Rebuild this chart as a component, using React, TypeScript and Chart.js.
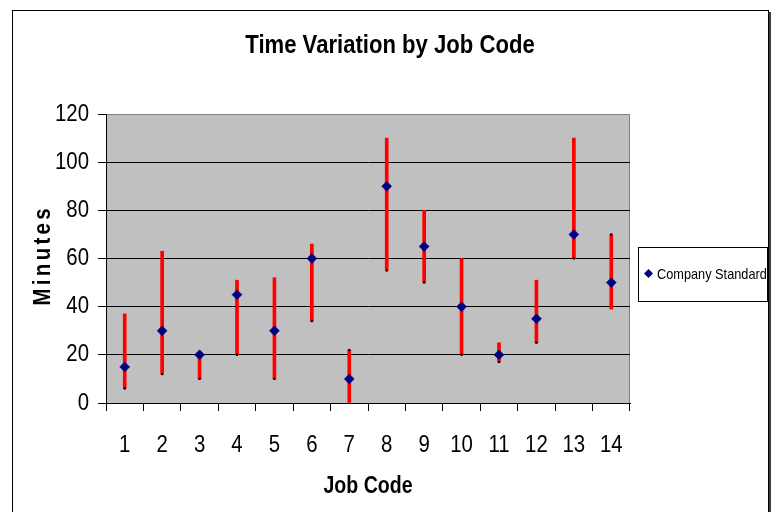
import React, { useEffect, useRef } from "react";
import { Chart, registerables } from "chart.js";

Chart.register(...registerables);

const jobCodes = ["1", "2", "3", "4", "5", "6", "7", "8", "9", "10", "11", "12", "13", "14"];
const companyStandard = [15, 30, 20, 45, 30, 60, 10, 90, 65, 40, 20, 35, 70, 50];
const lowValues = [6, 12, 10, 20, 10, 34, 0, 55, 50, 20, 17, 25, 60, 39];
const highValues = [37, 63, 20, 51, 52, 66, 22, 110, 80, 60, 25, 51, 110, 70];
const closeValues = [6, 12, 10, 20, 10, 34, 22, 55, 50, 20, 17, 25, 60, 70];
const yTicks = [0, 20, 40, 60, 80, 100, 120];

const FONT = "'Liberation Sans', Arial, sans-serif";
const NARROW = 0.85; // emulate a narrow face by horizontal squeeze

function narrowContext(ctx: any) {
  if (ctx.__narrowed) return;
  ctx.__narrowed = true;
  const origFill = ctx.fillText.bind(ctx);
  const origMeasure = ctx.measureText.bind(ctx);
  ctx.fillText = (text: string, x: number, y: number, maxWidth?: number) => {
    ctx.save();
    ctx.translate(x, y);
    ctx.scale(NARROW, 1);
    if (maxWidth !== undefined) origFill(text, 0, 0, maxWidth / NARROW);
    else origFill(text, 0, 0);
    ctx.restore();
  };
  ctx.measureText = (text: string) => {
    const m = origMeasure(text);
    return {
      width: m.width * NARROW,
      actualBoundingBoxAscent: m.actualBoundingBoxAscent,
      actualBoundingBoxDescent: m.actualBoundingBoxDescent,
      actualBoundingBoxLeft: m.actualBoundingBoxLeft * NARROW,
      actualBoundingBoxRight: m.actualBoundingBoxRight * NARROW,
    };
  };
}

const framePlugin = {
  id: "frame",
  beforeDraw(chart: any) {
    const { ctx, chartArea } = chart;
    ctx.save();
    ctx.fillStyle = "#ffffff";
    ctx.fillRect(0, 0, chart.width, chart.height);
    ctx.fillStyle = "#C0C0C0";
    ctx.fillRect(chartArea.left, chartArea.top, chartArea.right - chartArea.left, chartArea.bottom - chartArea.top);
    ctx.strokeStyle = "#808080";
    ctx.lineWidth = 1;
    ctx.strokeRect(chartArea.left + 0.5, chartArea.top + 0.5, chartArea.right - chartArea.left - 1, chartArea.bottom - chartArea.top);
    ctx.restore();
  },
  afterDraw(chart: any) {
    const { ctx } = chart;
    ctx.save();
    // outer frame
    ctx.strokeStyle = "#000000";
    ctx.lineWidth = 1;
    ctx.strokeRect(12.5, 10.5, 756, 520);
    ctx.fillStyle = "#404040";
    ctx.fillRect(769, 12, 2, 510);
    // y axis title with letter spacing
    ctx.translate(41, 257);
    ctx.rotate(-Math.PI / 2);
    ctx.font = `bold 24px ${FONT}`;
    (ctx as any).letterSpacing = "3.9px";
    ctx.fillStyle = "#000000";
    ctx.textAlign = "center";
    ctx.textBaseline = "alphabetic";
    ctx.fillText("Minutes", 1.7, 8.5);
    ctx.restore();

    // legend
    ctx.save();
    ctx.strokeStyle = "#000000";
    ctx.lineWidth = 1;
    ctx.strokeRect(638.5, 247.5, 129, 54);
    const cx = 648.5, cy = 273.5, r = 4.5;
    ctx.fillStyle = "#000080";
    ctx.beginPath();
    ctx.moveTo(cx, cy - r);
    ctx.lineTo(cx + r, cy);
    ctx.lineTo(cx, cy + r);
    ctx.lineTo(cx - r, cy);
    ctx.closePath();
    ctx.fill();
    ctx.fillStyle = "#000000";
    ctx.font = `15px ${FONT}`;
    ctx.textAlign = "left";
    ctx.textBaseline = "alphabetic";
    ctx.fillText(chart.data.datasets[0].label, 657, 278.5);
    ctx.restore();
  },
};

export default function App() {
  const ref = useRef<HTMLCanvasElement | null>(null);
  useEffect(() => {
    if (!ref.current) return;
    const ctx2d = ref.current.getContext("2d");
    narrowContext(ctx2d);
    const chart = new Chart(ref.current, {
      type: "bar",
      data: {
        labels: jobCodes,
        datasets: [
          {
            type: "line",
            label: "Company Standard",
            data: companyStandard,
            showLine: false,
            pointStyle: "rectRot",
            pointRadius: 5,
            pointBackgroundColor: "#000080",
            pointBorderColor: "#000080",
            pointBorderWidth: 0.5,
            order: 0,
          } as any,
          {
            type: "line",
            label: "Close",
            data: closeValues,
            showLine: false,
            pointStyle: "rect",
            pointRadius: 1.5,
            pointBackgroundColor: "#000000",
            pointBorderColor: "#000000",
            pointBorderWidth: 0,
            order: 1,
          } as any,
          {
            type: "bar",
            label: "Range",
            data: lowValues.map((l, i) => [l, highValues[i]]),
            backgroundColor: "#FF0000",
            borderWidth: 0,
            barThickness: 3,
            order: 2,
          } as any,
        ],
      },
      options: {
        animation: false,
        responsive: false,
        layout: { padding: { left: 8, right: 0, top: 0, bottom: 0 } },
        plugins: {
          legend: { display: false },
          tooltip: { enabled: false },
          title: {
            display: true,
            text: "Time Variation by Job Code",
            color: "#000000",
            font: { family: FONT, size: 26, weight: "bold" },
            padding: { top: 30.4, bottom: 52.4 },
          },
        },
        scales: {
          x: {
            type: "category",
            offset: true,
            grid: { display: true, drawOnChartArea: false, drawTicks: true, tickLength: 8, color: "#000000", offset: true },
            border: { display: true, color: "#000000", width: 1 },
            ticks: { color: "#000000", font: { family: FONT, size: 24 }, padding: 20, maxRotation: 0, autoSkip: false },
            title: {
              display: true,
              text: "Job Code",
              color: "#000000",
              font: { family: FONT, size: 23, weight: "bold" },
              padding: { top: 0, bottom: 12 },
            },
            afterFit: (s: any) => { s.height = 109; },
          },
          y: {
            type: "linear",
            min: 0,
            max: 120,
            afterBuildTicks: (s: any) => { s.ticks = yTicks.map((v) => ({ value: v })); },
            grid: {
              color: (c: any) => (c.tick && c.tick.value === 120 ? "#808080" : "#000000"),
              tickColor: "#000000",
              tickLength: 8,
              lineWidth: 1,
            },
            border: { display: true, color: "#000000", width: 1 },
            ticks: { color: "#000000", font: { family: FONT, size: 24 }, padding: 9 },
            title: { display: false },
            afterFit: (s: any) => { s.width = 98; },
          },
          y2: {
            type: "linear",
            position: "right",
            display: true,
            grid: { display: false },
            border: { display: false },
            ticks: { display: false },
            afterFit: (s: any) => { s.width = 142; },
          },
        },
      },
      plugins: [framePlugin],
    });
    return () => chart.destroy();
  }, []);
  return (
    <div style={{ position: "fixed", left: 0, top: 0, width: 772, height: 512, background: "#fff" }}>
      <canvas ref={ref} width={772} height={512} style={{ display: "block" }} />
    </div>
  );
}
